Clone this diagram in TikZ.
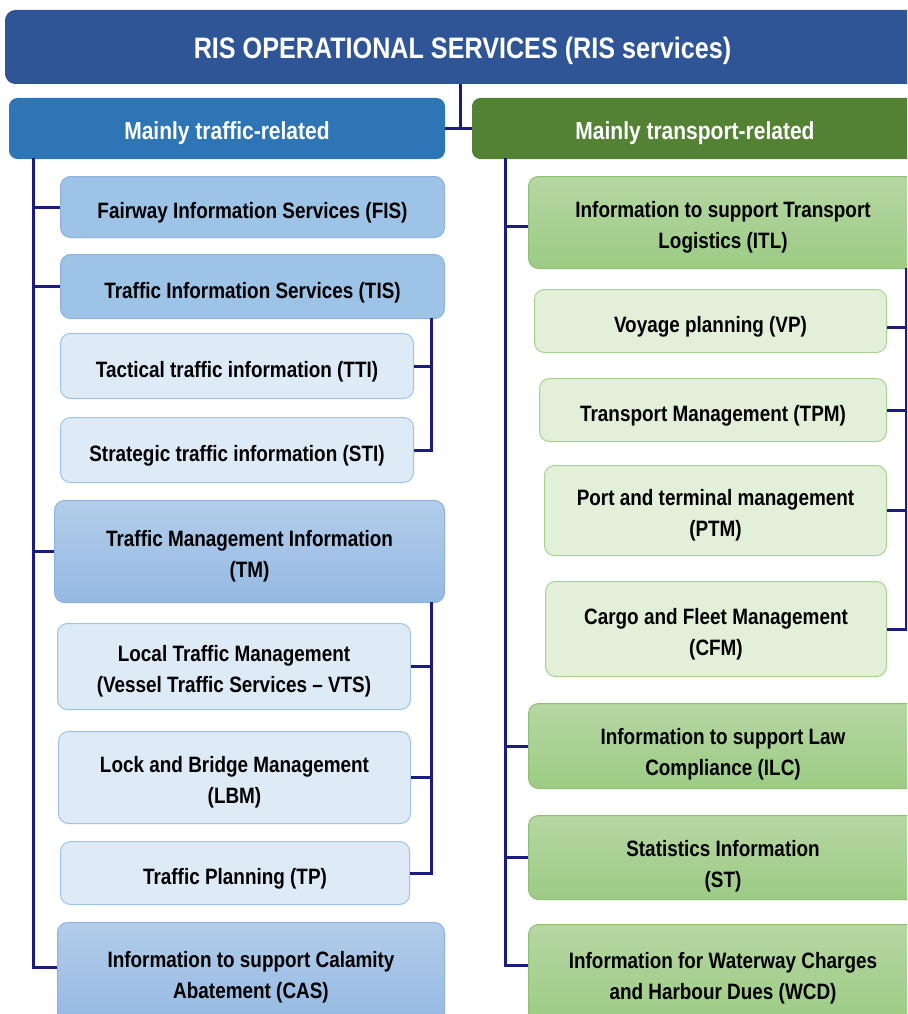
\documentclass[tikz,border=0pt]{standalone}
\usepackage{fontspec}
\newfontfamily\narrow[FakeStretch=0.85]{Liberation Sans}
\definecolor{titleblue}{HTML}{2F5597}
\definecolor{hdrblue}{HTML}{2E75B6}
\definecolor{hdrgreen}{HTML}{548235}
\definecolor{midblue}{HTML}{9DC3E6}
\definecolor{midblueTop}{HTML}{B3CDEB}
\definecolor{midblueBot}{HTML}{94B9E2}
\definecolor{midblueLine}{HTML}{8CB2DE}
\definecolor{lightblue}{HTML}{DEEBF7}
\definecolor{lightblueLine}{HTML}{9DC3E6}
\definecolor{midgreenTop}{HTML}{B6D7A3}
\definecolor{midgreenBot}{HTML}{9CCB84}
\definecolor{midgreenLine}{HTML}{8DC073}
\definecolor{lightgreen}{HTML}{E2F0D9}
\definecolor{lightgreenLine}{HTML}{A9D18E}
\definecolor{navy}{HTML}{1C1C7E}
\tikzset{
  base/.style={rounded corners=10pt, line width=1pt, align=center, inner sep=0pt,
    anchor=north west, text=black, font=\narrow\bfseries\fontsize{22.25}{31}\selectfont,
    execute at begin node={\rule{0pt}{28pt}}},
  twoline/.style={execute at begin node={\rule{0pt}{57pt}}},
  twolinex/.style={execute at begin node={\rule{0pt}{64pt}}},
  titlebox/.style={base, fill=titleblue, draw=titleblue, text=white,
    font=\narrow\bfseries\fontsize{29.6}{34}\selectfont,
    execute at begin node={\rule{0pt}{29.4pt}}},
  hdrL/.style={base, fill=hdrblue, draw=hdrblue, text=white, rounded corners=8pt,
    font=\narrow\bfseries\fontsize{24.7}{28}\selectfont,
    execute at begin node={\rule{0pt}{24.8pt}}},
  hdrR/.style={hdrL, fill=hdrgreen, draw=hdrgreen},
  bluemid/.style={base, top color=midblueTop, bottom color=midblueBot, draw=midblueLine},
  blueflat/.style={base, fill=midblue, draw=midblueLine},
  bluelight/.style={base, fill=lightblue, draw=lightblueLine},
  greenmid/.style={base, top color=midgreenTop, bottom color=midgreenBot, draw=midgreenLine},
  greenlight/.style={base, fill=lightgreen, draw=lightgreenLine},
  conn/.style={draw=navy, line width=3pt}
}
\begin{document}
\begin{tikzpicture}[x=1pt,y=-1pt]
\useasboundingbox (0,0) rectangle (907,1014);
\clip (0,0) rectangle (907,1014);
% title and headers
\node[titlebox, minimum width=914, minimum height=73] (title) at (5,10) {RIS OPERATIONAL SERVICES (RIS services)};
\node[hdrL, minimum width=435, minimum height=60] (hL) at (9,98) {Mainly traffic-related};
\node[hdrR, minimum width=445, minimum height=60] (hR) at (472,98) {Mainly transport-related};
% left column
\node[blueflat, minimum width=384, minimum height=61] (FIS) at (60,176) {Fairway Information Services (FIS)};
\node[blueflat, minimum width=384, minimum height=64] (TIS) at (60,254) {Traffic Information Services (TIS)};
\node[bluelight, minimum width=353, minimum height=65] (TTI) at (60,333) {Tactical traffic information (TTI)};
\node[bluelight, minimum width=353, minimum height=65] (STI) at (60,417) {Strategic traffic information (STI)};
\node[bluemid, twoline, minimum width=390, minimum height=102] (TM) at (54,500) {Traffic Management Information\\(TM)};
\node[bluelight, twoline, minimum width=353, minimum height=86] (LTM) at (57,623) {Local Traffic Management\\(Vessel Traffic Services – VTS)};
\node[bluelight, twoline, minimum width=352, minimum height=92] (LBM) at (58,731) {Lock and Bridge Management\\(LBM)};
\node[bluelight, minimum width=349, minimum height=63] (TP) at (60,841) {Traffic Planning (TP)};
\node[bluemid, twoline, minimum width=387, minimum height=100] (CAS) at (57,922) {Information to support Calamity\\Abatement (CAS)};
% right column
\node[greenmid, twoline, minimum width=389, minimum height=92] (ITL) at (528,176) {Information to support Transport\\Logistics (ITL)};
\node[greenlight, minimum width=352, minimum height=63] (VP) at (534,289) {Voyage planning (VP)};
\node[greenlight, minimum width=347, minimum height=63] (TPM) at (539,378) {Transport Management (TPM)};
\node[greenlight, twoline, minimum width=342, minimum height=90] (PTM) at (544,465) {Port and terminal management\\(PTM)};
\node[greenlight, twoline, minimum width=341, minimum height=95] (CFM) at (545,581) {Cargo and Fleet Management\\(CFM)};
\node[greenmid, twolinex, minimum width=389, minimum height=85] (ILC) at (528,703) {Information to support Law\\Compliance (ILC)};
\node[greenmid, twolinex, minimum width=389, minimum height=84] (ST) at (528,815) {Statistics Information\\(ST)};
\node[greenmid, twoline, minimum width=389, minimum height=98] (WCD) at (528,924) {Information for Waterway Charges\\and Harbour Dues (WCD)};
% trunk coordinates
\coordinate (mid) at (460,127);
\coordinate (tL) at (33,158);
\coordinate (tR) at (505,158);
\coordinate (sTIS) at (431,318);
\coordinate (sTM) at (431,602);
\coordinate (sITL) at (906,268);
\coordinate (casIn) at ([yshift=5pt]CAS.west);
\coordinate (wcdIn) at ([yshift=8pt]WCD.west);
\coordinate (itlIn) at ([yshift=-4pt]ITL.west);
\coordinate (vpIn) at ([yshift=-6pt]VP.east);
% top connectors
\draw[conn] (title.south -| mid) -- (mid);
\draw[conn] (hL.east) -- (hR.west);
% left trunk
\draw[conn] (tL) |- (casIn);
\draw[conn] (tL |- FIS.west) -- (FIS.west);
\draw[conn] (tL |- TIS.west) -- (TIS.west);
\draw[conn] (tL |- TM.west) -- (TM.west);
% TIS sub
\draw[conn] (sTIS) |- (STI.east);
\draw[conn] (sTIS |- TTI.east) -- (TTI.east);
% TM sub
\draw[conn] (sTM) |- (TP.east);
\draw[conn] (sTM |- LTM.east) -- (LTM.east);
\draw[conn] (sTM |- LBM.east) -- (LBM.east);
% right trunk
\draw[conn] (tR) |- (wcdIn);
\draw[conn] (tR |- itlIn) -- (itlIn);
\draw[conn] (tR |- ILC.west) -- (ILC.west);
\draw[conn] (tR |- ST.west) -- (ST.west);
% ITL sub
\draw[conn] (sITL) |- (CFM.east);
\draw[conn] (sITL |- vpIn) -- (vpIn);
\draw[conn] (sITL |- TPM.east) -- (TPM.east);
\draw[conn] (sITL |- PTM.east) -- (PTM.east);
\end{tikzpicture}
\end{document}
